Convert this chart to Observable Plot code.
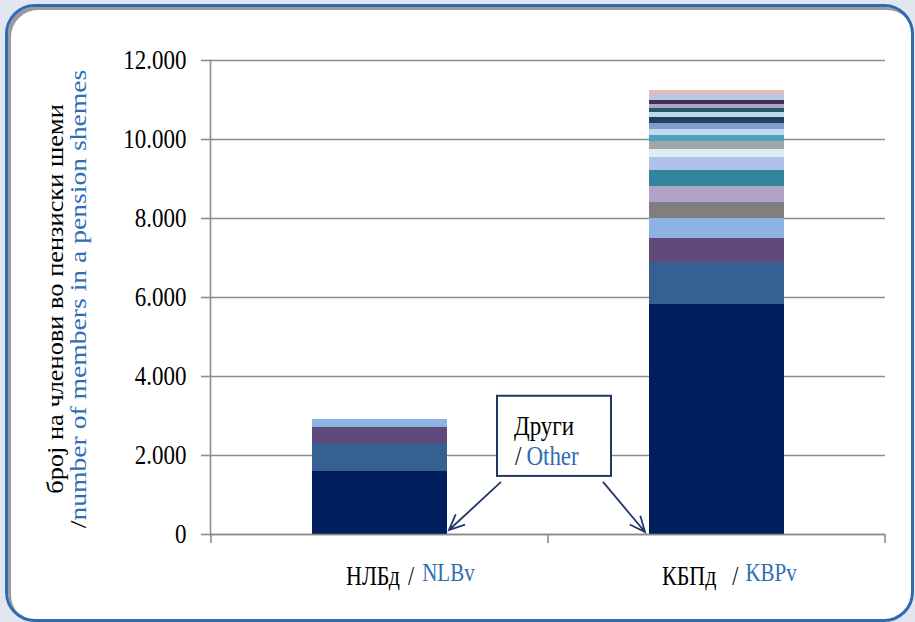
<!DOCTYPE html>
<html>
<head>
<meta charset="utf-8">
<script src="https://cdn.jsdelivr.net/npm/d3@7"></script>
<script src="https://cdn.jsdelivr.net/npm/@observablehq/plot@0.6"></script>
<style>
  html, body { margin: 0; padding: 0; }
  body { background: #e1e6f0; width: 915px; height: 622px; overflow: hidden; position: relative; font-family: "Liberation Serif", "DejaVu Serif", serif; }
  #panel { position: absolute; left: 5px; top: 4px; width: 903px; height: 612px; border: 3px solid #2f6bb0; border-radius: 30px; background: #ffffff; box-shadow: inset 3px 3px 0 #9a9a9a; }
  #chart { position: absolute; left: 0; top: 0; }
  #chart svg, #chart svg text, #chart svg tspan { font-family: "Liberation Serif", "DejaVu Serif", serif !important; }
</style>
</head>
<body>
<div id="panel"></div>
<div id="chart"></div>
<script>
// ---- data ----
const categories = ["НЛБд", "КБПд"];
const categoriesEn = ["NLBv", "KBPv"];
const nlbMembers = [1600, 710, 405, 200];
const kbpMembers = [5820, 1070, 600, 515, 400, 405, 405, 330, 200, 200, 150, 150, 150, 150, 150, 100, 100, 100, 150, 100];
const yTicks = [0, 2000, 4000, 6000, 8000, 10000, 12000];
const yLabelMk = "број на членови во пензиски шеми";
const yLabelEn = "number of members in a pension shemes";
const noteMk = "Други";
const noteEn = "Other";

// ---- styles ----
const palette = ["#001f5c", "#366092", "#604a7b", "#8db3e2", "#7f7f7f", "#b3a2c7", "#31859c", "#b1c1ec",
                 "#dbeef4", "#a5a5a5", "#4aa3bb", "#c6d9f1", "#809fd0", "#243f60", "#b7dee8", "#215968",
                 "#b3a2c7", "#3f3151", "#b9c8e0", "#e6b9b8"];
const blue = "#2e6db4";
const navy = "#1f3864";
const gridColor = "#8c8c8c";
const stretch = 1.2; // the original chart's text is vertically stretched

const rows = [
  ...nlbMembers.map((v, i) => ({cat: categories[0], seg: i, value: v})),
  ...kbpMembers.map((v, i) => ({cat: categories[1], seg: i, value: v}))
];

const fmt = d3.formatLocale({decimal: ",", thousands: ".", grouping: [3], currency: ["", ""]}).format(",");

const plot = Plot.plot({
  width: 915,
  height: 622,
  marginLeft: 210,
  marginRight: 30,
  marginTop: 60,
  marginBottom: 88,
  style: {background: "transparent", fontSize: "22px", color: "#000", overflow: "visible"},
  x: {domain: categories, paddingInner: 0.6, paddingOuter: 0.3, axis: null},
  y: {domain: [0, 12000]},
  marks: [
    Plot.gridY(yTicks, {stroke: gridColor, strokeOpacity: 1, strokeWidth: 1.6}),
    Plot.axisY(yTicks, {tickSize: 9, tickPadding: 15, tickFormat: fmt, stroke: gridColor, strokeWidth: 1.6, fill: "#000", fontSize: 23, label: null}),
    Plot.frame({anchor: "left", stroke: gridColor, strokeWidth: 1.6}),
    Plot.barY(rows, {x: "cat", y: "value", fill: d => palette[d.seg], shapeRendering: "crispEdges"}),
    Plot.ruleY([0], {stroke: gridColor, strokeWidth: 1.6})
  ]
});
document.getElementById("chart").appendChild(plot);

// ---- overlay using the plot's scales ----
const xs = plot.scale("x"), ys = plot.scale("y");
const svg = d3.select(plot);
const bw = xs.bandwidth;
const step = xs.apply(categories[1]) - xs.apply(categories[0]);
const gap = step - bw;
const y0 = ys.apply(0);

// stretch the y tick labels vertically around their anchor
svg.selectAll("text").each(function () {
  if (!/^\d/.test(this.textContent)) return;
  const tr = this.getAttribute("transform");
  if (tr && tr.includes("translate")) {
    this.setAttribute("transform", tr + ` scale(1,${stretch})`);
  } else {
    const x = +this.getAttribute("x") || 0, y = +this.getAttribute("y") || 0;
    this.setAttribute("x", 0); this.setAttribute("y", 0);
    this.setAttribute("transform", `${tr || ""} translate(${x},${y}) scale(1,${stretch})`);
  }
});

// category boundary ticks
const bounds = categories.map(c => xs.apply(c) - gap / 2).concat([xs.apply(categories[categories.length - 1]) + bw + gap / 2]);
svg.append("g").selectAll("line").data(bounds).join("line")
  .attr("x1", d => d).attr("x2", d => d).attr("y1", y0).attr("y2", y0 + 9)
  .attr("stroke", gridColor).attr("stroke-width", 1.6);

// category labels
const labelLayout = [{dx: 34, g1: 8, g2: 8}, {dx: 13, g1: 16, g2: 7}];
categories.forEach((c, i) => {
  const L = labelLayout[i];
  const t = svg.append("text")
    .attr("transform", `translate(${xs.apply(c) + L.dx},${y0 + 51}) scale(1,${stretch})`)
    .attr("text-anchor", "start")
    .attr("font-size", 22).attr("fill", "#000");
  t.append("tspan").text(c);
  t.append("tspan").attr("dx", L.g1).text("/");
  t.append("tspan").attr("dx", L.g2).attr("dy", -3).attr("fill", blue).attr("font-size", 21).text(categoriesEn[i]);
});

// y-axis title (two lines, rotated)
const yMid = (ys.apply(12000) + y0) / 2 + 2;
const yl = svg.append("g").attr("font-size", 24).attr("text-anchor", "middle");
yl.append("text").attr("transform", `translate(63,${yMid}) rotate(-90) scale(1.1,1)`).attr("fill", "#000").text(yLabelMk);
const t2 = yl.append("text").attr("transform", `translate(86,${yMid}) rotate(-90) scale(1.15,1)`).attr("fill", "#000");
t2.append("tspan").text("/");
t2.append("tspan").attr("fill", blue).text(yLabelEn);

// annotation box "Други / Other"
const bx = bounds[1] - 51, bwid = 114;
const byTop = ys.apply(3500), byBot = ys.apply(1470);
const note = svg.append("g").attr("text-anchor", "start");
note.append("rect").attr("x", bx).attr("y", byTop).attr("width", bwid).attr("height", byBot - byTop)
  .attr("fill", "#fff").attr("stroke", navy).attr("stroke-width", 2);
note.append("text").attr("transform", `translate(${bx + 17},${byTop + 39}) scale(1,${stretch})`)
  .attr("font-size", 23).attr("fill", "#000").text(noteMk);
const nt = note.append("text").attr("transform", `translate(${bx + 18},${byTop + 69}) scale(1,${stretch})`)
  .attr("font-size", 23).attr("fill", "#000");
nt.append("tspan").text("/");
nt.append("tspan").attr("dx", 5).attr("fill", blue).text(noteEn);

// arrows from the box to the bar bottoms
function arrow(x1, y1, x2, y2) {
  const a = Math.atan2(y2 - y1, x2 - x1), L = 17, s = 0.42;
  const h1 = [x2 - L * Math.cos(a - s), y2 - L * Math.sin(a - s)];
  const h2 = [x2 - L * Math.cos(a + s), y2 - L * Math.sin(a + s)];
  svg.append("path")
    .attr("d", `M${x1},${y1}L${x2},${y2}M${h1[0]},${h1[1]}L${x2},${y2}L${h2[0]},${h2[1]}`)
    .attr("fill", "none").attr("stroke", navy).attr("stroke-width", 1.8);
}
const nlbRight = xs.apply(categories[0]) + bw;
const kbpLeft = xs.apply(categories[1]);
arrow(bx + 4, byBot + 6, nlbRight + 2, y0 - 4);
arrow(bx + 106, byBot + 6, kbpLeft - 4, y0 - 2);
</script>
</body>
</html>
